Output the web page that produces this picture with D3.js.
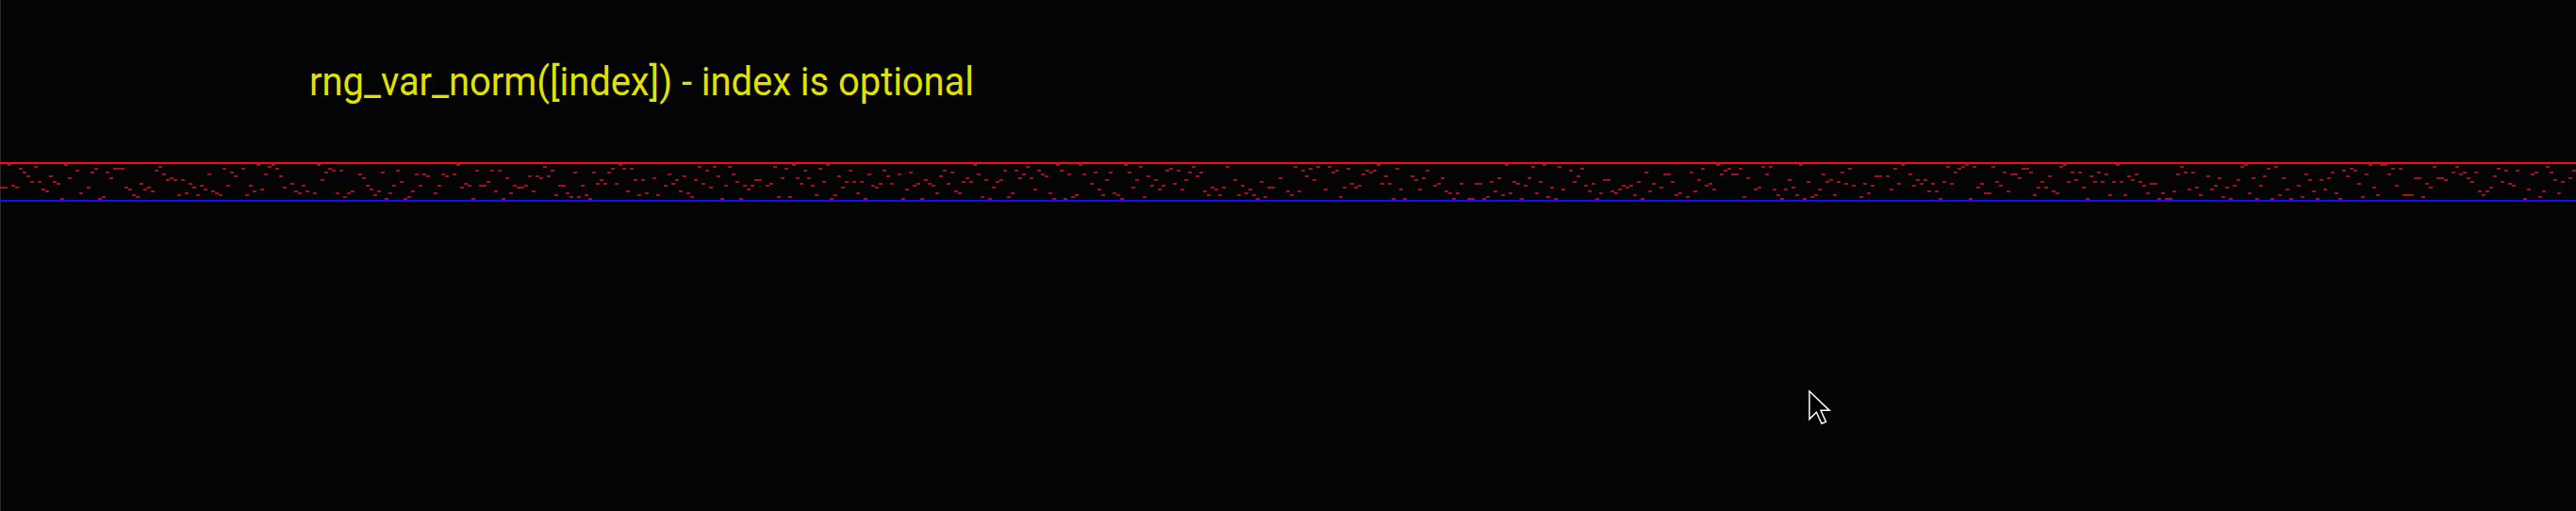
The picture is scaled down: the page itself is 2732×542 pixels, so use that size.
<!DOCTYPE html>
<html>
<head>
<meta charset="utf-8">
<script src="https://cdn.jsdelivr.net/npm/d3@7"></script>
<style>
	html, body { margin: 0; padding: 0; background: #040404; overflow: hidden; }
	svg { display: block; }
</style>
</head>
<body>
<script>
// title shown above the strip
const titleText = 'rng_var_norm([index]) - index is optional';

// band limits (in sample levels) : red line on top, blue line below
const levelRange = [0, 18];

// one sample per column, read off the strip (null = no dot visible)
const samples = [
	12,12,0,11,12,2,4,6,9,1, 9,13,14,6,9,10,18,0,7,null, 3,15,null,12,4,2,18,17,4,7,
	2,2,2,12,13,16,17,10,13,12, 14,3,1,5,8,7,8,16,8,15,
	10,12,16,11,13,5,14,15,16,2, 11,4,6,null,2,16,11,14,0,13, 5,1,0,2,6,12,null,10,14,15,
	11,14,null,15,0,8,4,2,3,15, 3,17,15,14,null,5,7,11,13,16, 14,4,18,15,11,3,9,18,17,14,
	5,11,5,6,null,15,11,5,6,null, 5,0,12,10,11,18,3,11,11,9, 3,14,3,18,7,15,11,12,12,11,
	6,14,6,7,1,6,3,16,11,11,
	15,17,4,17,11,16,18,4,10,8, 10,4,2,10,0,2,14,2,8,16, 8,15,null,7,16,null,11,5,10,8,
	14,6,15,17,8,1,10,3,12,1, 6,18,11,1,5,9,18,11,13,11, 8,8,null,11,10,1,17,7,2,17,
	0,7,10,3,7,11,16,2,9,0, 18,16,6,12,9,3,9,15,9,18, 5,11,12,10,3,6,10,null,5,18,
	13,4,11,10,18,8,10,11,15,6,
	3,10,4,14,15,9,7,9,0,5, 17,8,18,12,9,8,3,17,15,3, 7,5,1,7,13,3,5,6,15,18,
	0,3,18,5,17,16,0,5,null,10, 4,13,16,8,4,15,16,18,0,4, 12,8,1,17,6,11,8,13,11,3,
	2,10,3,13,8,4,1,6,4,14, 16,12,13,16,12,1,null,8,16,11, 15,13,16,18,9,17,12,12,null,7,
	null,14,16,1,14,3,6,2,8,1,
	null,13,1,4,3,17,12,2,10,12, 11,5,3,4,3,0,10,6,10,18, 2,13,18,null,6,8,13,7,3,null,
	11,10,7,14,15,18,15,10,null,18, 18,10,10,18,17,9,14,7,16,0, 15,9,10,18,11,7,1,15,9,0,
	17,12,18,1,13,null,3,9,6,2, 11,14,10,18,15,8,8,14,15,13, 11,12,11,16,9,18,4,14,10,null,
	12,5,5,9,16,15,null,17,4,14,
	8,2,11,10,13,0,5,3,2,5, 5,2,17,7,null,13,12,1,5,1, 13,16,18,13,8,12,16,0,18,9,
	17,16,13,5,9,8,16,9,4,10, 2,11,null,17,10,15,11,6,6,null, 6,13,2,10,0,null,5,11,8,10,
	8,14,10,14,18,9,1,10,4,2, 1,0,18,1,12,10,15,15,1,9, 11,4,14,5,5,7,2,2,4,16,
	12,9,12,6,14,15,1,0,9,4,
	8,4,12,18,6,9,4,9,5,16, 9,0,9,16,6,8,5,9,11,15, 10,10,18,15,18,18,14,5,1,4,
	13,4,12,16,null,6,13,11,7,17, 12,18,11,8,1,0,15,7,18,11, 6,2,18,1,16,7,13,18,null,11,
	17,5,8,14,18,8,13,7,4,15, 18,3,6,2,3,10,17,5,0,12, 16,0,0,5,2,11,2,16,16,16,
	7,7,17,10,12,1,7,7,8,null,
	4,1,5,4,7,9,4,14,16,14, 12,6,2,9,3,10,11,3,null,18, 13,5,4,17,14,1,4,8,15,9,
	null,7,3,
];

function onLoad () {
	const width = 2732;
	const height = 542;

	const svg = d3.select('body').append('svg')
		.attr('width', width)
		.attr('height', height);

	svg.append('rect')
		.attr('width', width)
		.attr('height', height)
		.style('fill', '#040404');

	// left window border
	svg.append('line')
		.attr('x1', 0.5).attr('x2', 0.5)
		.attr('y1', 0).attr('y2', height)
		.style('stroke', '#2a2a2a')
		.style('stroke-width', 1);

	// SCALES
	const x = d3.scaleLinear()
		.domain([0, samples.length])
		.range([0, samples.length * 4]);
	const y = d3.scaleLinear()
		.domain(levelRange)
		.range([174, 210]);

	// DOTS
	svg.append('g')
		.attr('class', 'samples')
		.selectAll('rect')
		.data(samples.map((v, i) => ({ i, v })).filter(d => d.v !== null))
		.join('rect')
		.attr('x', d => x(d.i))
		.attr('y', d => y(d.v))
		.attr('width', x(1) - x(0))
		.attr('height', 2)
		.style('fill', '#a50f1c');

	// BAND LIMITS
	svg.append('line')
		.attr('x1', 0).attr('x2', width)
		.attr('y1', y(levelRange[0]) - 1).attr('y2', y(levelRange[0]) - 1)
		.style('stroke', '#ff0a0a')
		.style('stroke-width', 2);
	svg.append('line')
		.attr('x1', 0).attr('x2', width)
		.attr('y1', y(levelRange[1]) + 3).attr('y2', y(levelRange[1]) + 3)
		.style('stroke', '#1010ff')
		.style('stroke-width', 2);

	// TITLE
	svg.append('text')
		.attr('x', 328)
		.attr('y', 101)
		.attr('textLength', 705)
		.attr('lengthAdjust', 'spacingAndGlyphs')
		.style('font-family', '"Liberation Sans Narrow", Roboto, "Open Sans", sans-serif')
		.style('font-size', '43px')
		.style('fill', '#e2e200')
		.text(titleText);

	// mouse pointer left in the capture
	svg.append('path')
		.attr('transform', 'translate(1919,415) scale(1.85)')
		.attr('d', 'M0,0 L0,16 L4,12 L7,18.5 L9.5,17.5 L6.5,11 L11.5,11 Z')
		.style('fill', '#000')
		.style('stroke', '#fff')
		.style('stroke-width', 0.8)
		.style('stroke-linejoin', 'miter');
}

if (document.readyState === 'loading') {
	document.addEventListener('DOMContentLoaded', onLoad);
} else {
	onLoad();
}
</script>
</body>
</html>
